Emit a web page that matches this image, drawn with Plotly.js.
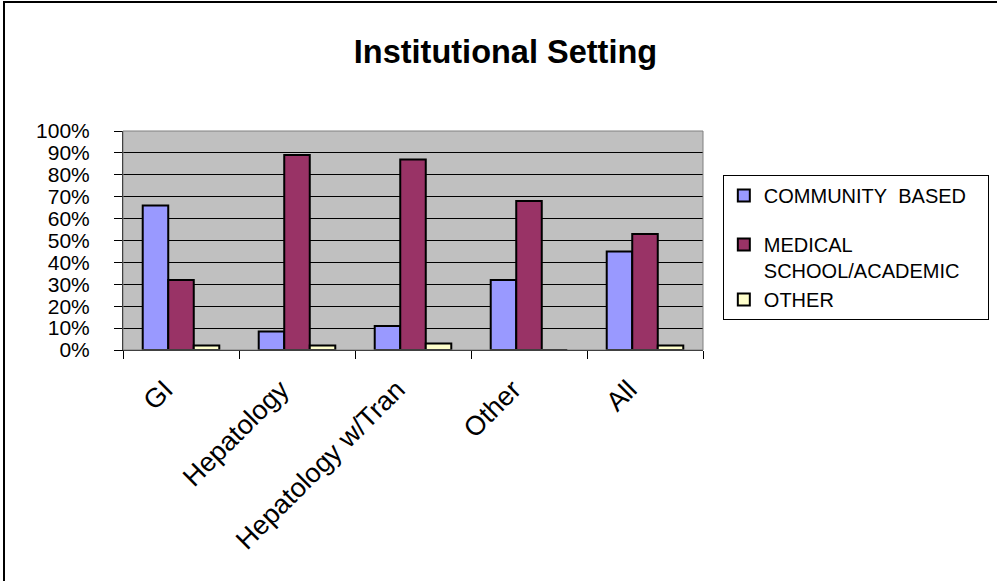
<!DOCTYPE html>
<html><head><meta charset="utf-8">
<script src="https://cdn.plot.ly/plotly-3.0.1.min.js"></script>
<style>
html,body{margin:0;padding:0;background:#fff;overflow:hidden;}
#frame{position:absolute;left:3px;top:1px;width:1010px;height:600px;border:2px solid #000;box-sizing:border-box;pointer-events:none;}
#chart{position:absolute;left:0;top:0;width:997px;height:581px;}
</style></head><body>
<div id="chart"></div>
<div id="frame"></div>
<script>
const categories = ["GI", "Hepatology", "Hepatology w/Tran", "Other", "All"];
const communityBased = [0.66, 0.085, 0.11, 0.32, 0.45];
const medicalAcademic = [0.32, 0.89, 0.87, 0.68, 0.53];
const otherSetting = [0.02, 0.02, 0.03, 0, 0.02];
const seriesNames = ["COMMUNITY&nbsp;&nbsp;BASED&nbsp;&nbsp;&nbsp;", "MEDICAL<br>SCHOOL/ACADEMIC", "OTHER"];
const yTicks = [0,0.1,0.2,0.3,0.4,0.5,0.6,0.7,0.8,0.9,1.0];

const font = "Liberation Sans, Arial, sans-serif";
const mk = (vals, name, color, grp) => ({
  type: "bar", x: categories, y: vals, name: name, legendgroup: grp,
  marker: {color: color, line: {color: "#000", width: 2}},
  hoverinfo: "skip"
});
const data = [
  mk(communityBased, seriesNames[0], "#9999FF", "a"),
  mk(medicalAcademic, seriesNames[1], "#993366", "b"),
  mk(otherSetting, seriesNames[2], "#FFFFCC", "b")
];
const layout = {
  width: 997, height: 581,
  margin: {l: 123, r: 294, t: 131, b: 231},
  paper_bgcolor: "#fff", plot_bgcolor: "#C0C0C0",
  font: {family: font, color: "#000"},
  title: {text: "<b>Institutional Setting</b>", font: {size: 32.5, family: font}, x: 0.507, xanchor: "center", y: 0.912, yanchor: "middle", xref: "container", yref: "container"},
  barmode: "group", bargap: 0.34, bargroupgap: 0,
  xaxis: {type: "category", tickangle: -45, tickfont: {size: 27}, ticks: "outside", tickson: "boundaries", ticklen: 8, tickcolor: "#000", tickwidth: 1, showline: true, linecolor: "#000", linewidth: 1, showgrid: false, ticklabelshift: -16, ticklabelstandoff: 12},
  yaxis: {range: [0, 1.0], tickvals: yTicks, tickformat: ".0%", tickfont: {size: 21}, ticks: "outside", ticklen: 8, tickcolor: "#000", showline: true, linecolor: "#000", linewidth: 1, gridcolor: "#000", gridwidth: 1, zeroline: false, ticklabelstandoff: 20},
  shapes: [{type: "rect", xref: "paper", yref: "paper", x0: 0, x1: 1, y0: 0, y1: 1, line: {color: "#808080", width: 1}}],
  legend: {xref: "container", yref: "container", x: 0.725, y: 0.699, xanchor: "left", yanchor: "top", bgcolor: "#fff", bordercolor: "#000", borderwidth: 1, font: {size: 20, family: font}, traceorder: "grouped", tracegroupgap: 20, valign: "top", itemwidth: 30},
  showlegend: true
};
Plotly.newPlot("chart", data, layout, {displayModeBar: false, staticPlot: true});
</script>
</body></html>
